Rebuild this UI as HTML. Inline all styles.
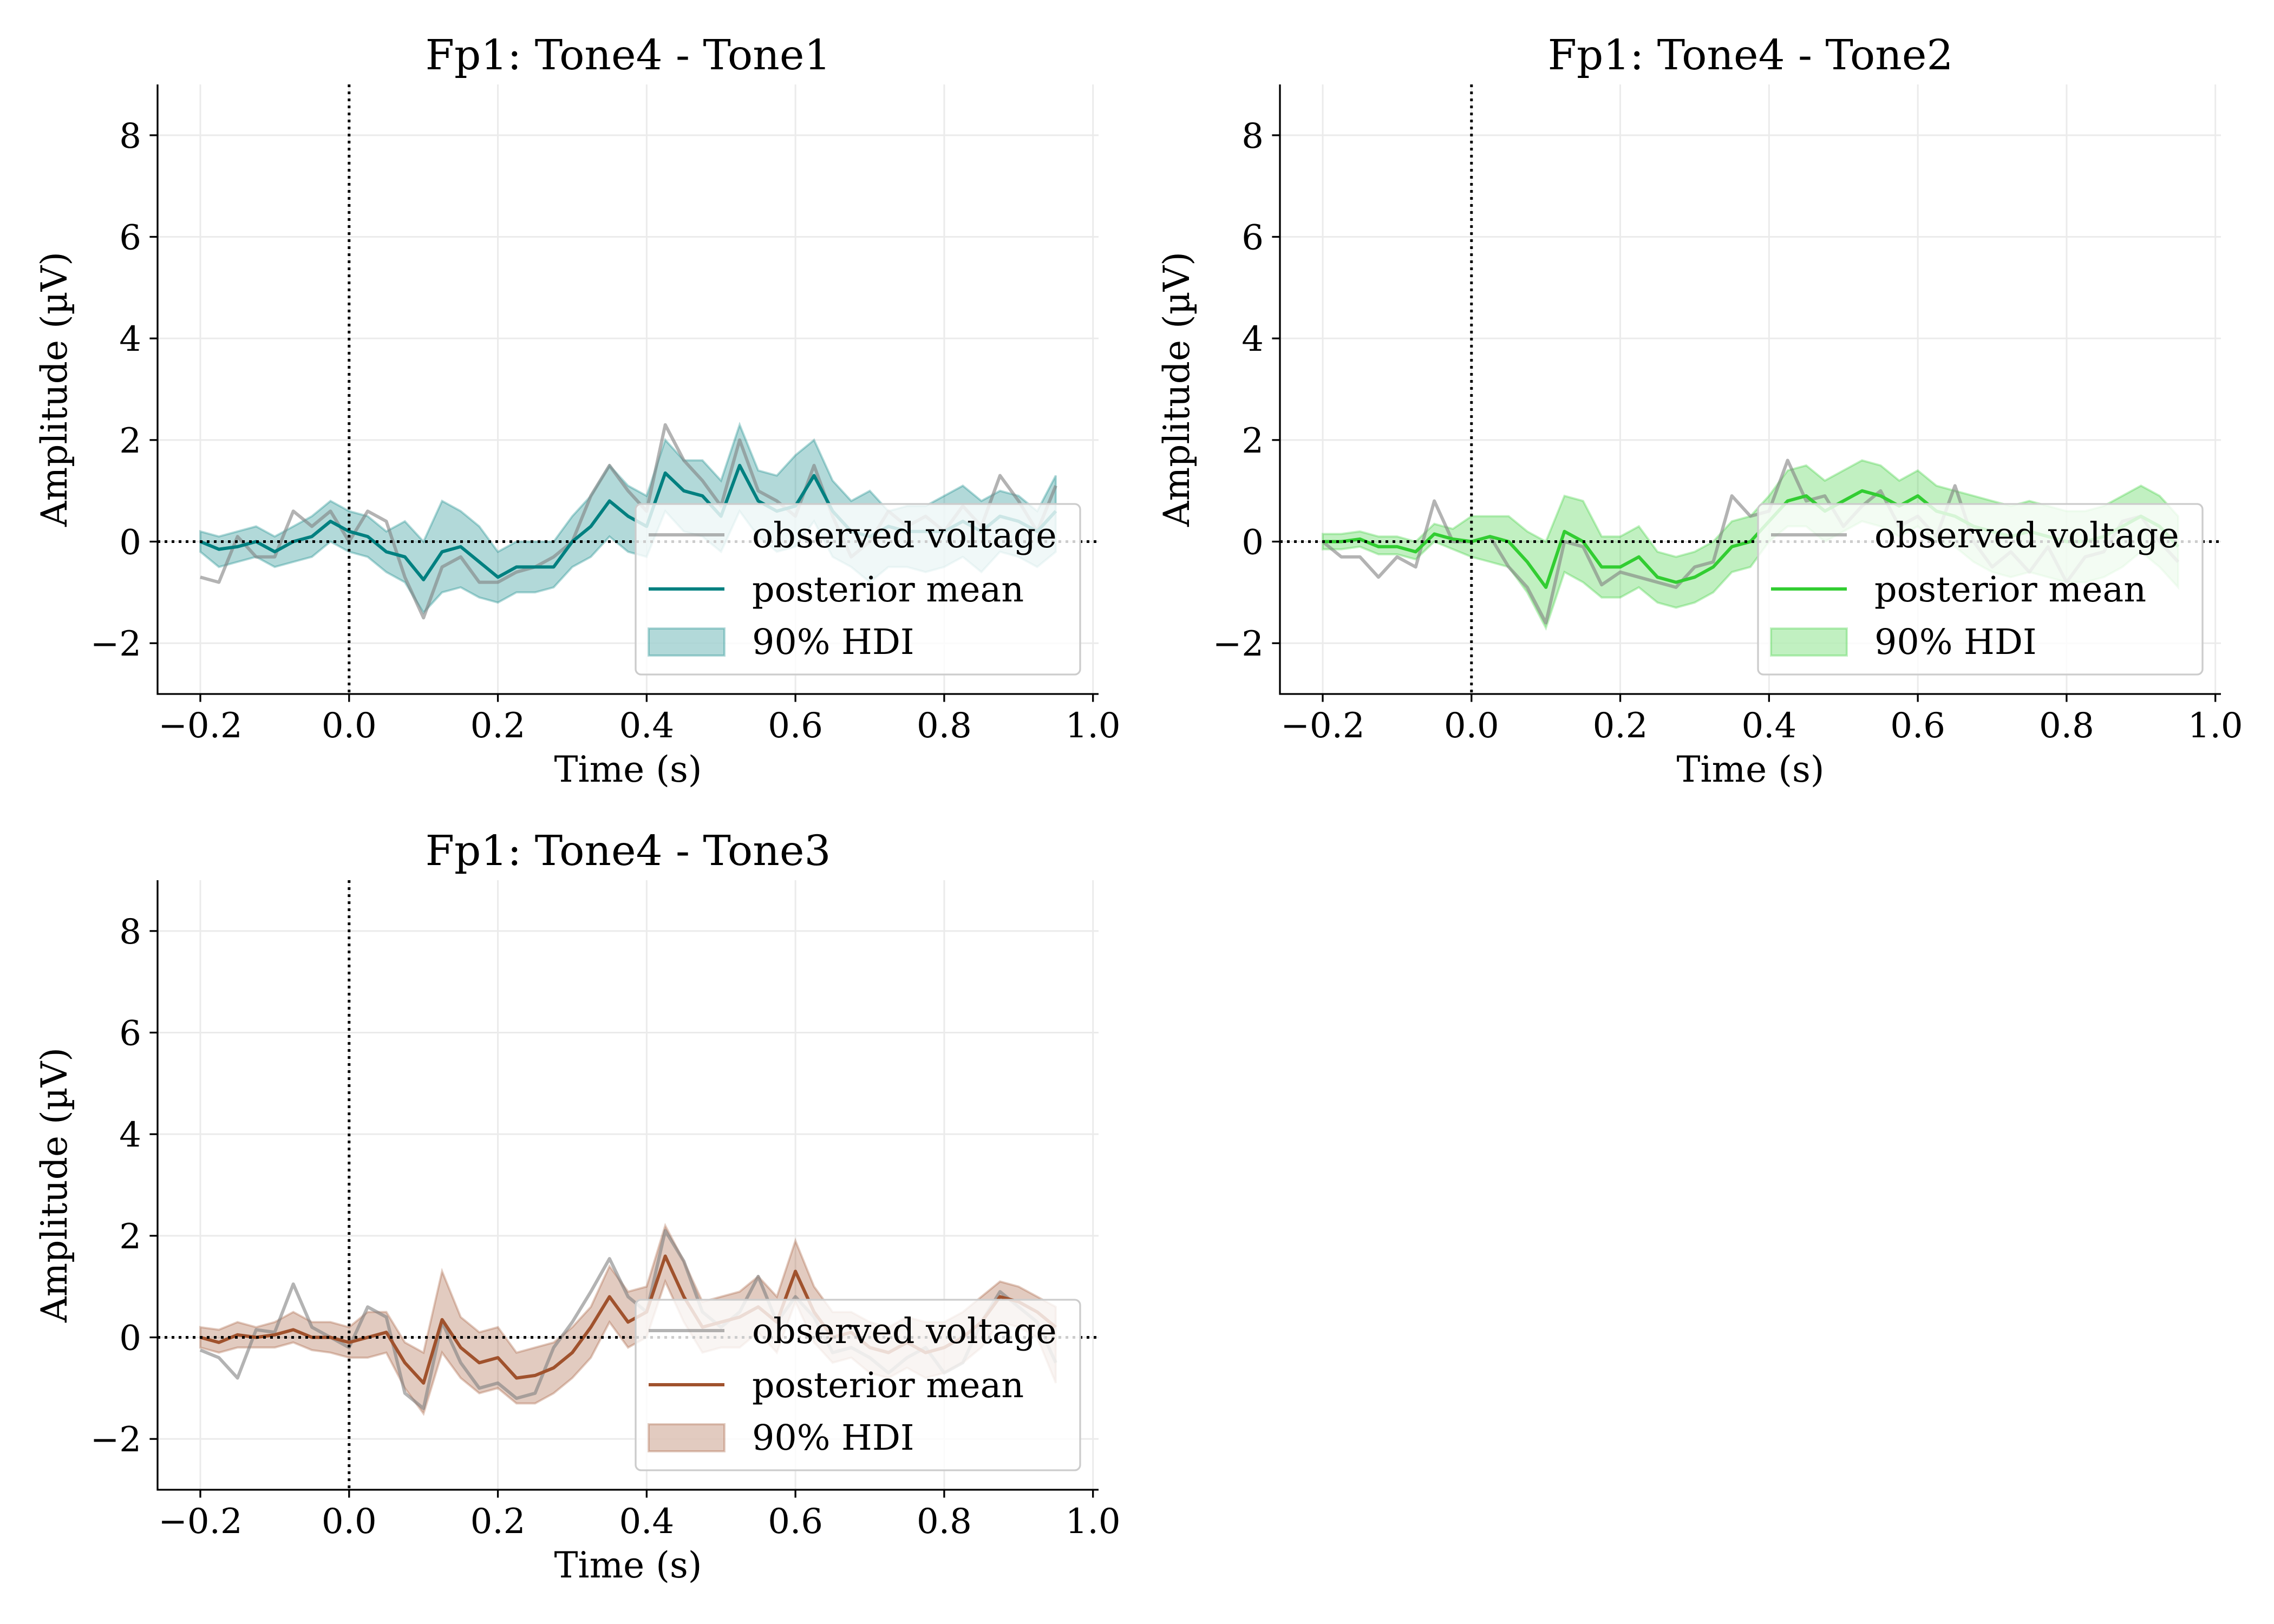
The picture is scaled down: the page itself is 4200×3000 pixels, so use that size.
<!DOCTYPE html>
<html><head><meta charset="utf-8"><style>
html,body{margin:0;padding:0;background:#fff;}
svg{display:block;font-family:"DejaVu Serif","Liberation Serif",serif;}
</style></head><body>
<svg id="fig" xmlns="http://www.w3.org/2000/svg" width="4200" height="3000" viewBox="0 0 4200 3000"></svg>
<script>
const times = [];
for (let k = 0; k < 47; k++) times.push(-0.2 + 0.025 * k);
const xTicks = [-0.2, 0.0, 0.2, 0.4, 0.6, 0.8, 1.0];
const xTickLabels = ["\u22120.2","0.0","0.2","0.4","0.6","0.8","1.0"];
const yTicks = [-2, 0, 2, 4, 6, 8];
const yTickLabels = ["\u22122","0","2","4","6","8"];
const titles = ["Fp1: Tone4 - Tone1","Fp1: Tone4 - Tone2","Fp1: Tone4 - Tone3"];

const obs1 = [-0.7,-0.8,0.1,-0.3,-0.3,0.6,0.3,0.6,0.0,0.6,0.4,-0.7,-1.5,-0.5,-0.3,-0.8,-0.8,-0.6,-0.5,-0.3,0.0,0.9,1.5,1.0,0.6,2.3,1.6,1.2,0.7,2.0,1.0,0.8,0.5,1.5,0.5,-0.3,0.0,0.6,0.3,0.5,0.2,0.7,0.3,1.3,0.8,0.2,1.1];
const mean1 = [0,-0.15,-0.1,0.0,-0.2,0.0,0.1,0.4,0.2,0.1,-0.2,-0.3,-0.75,-0.2,-0.1,-0.4,-0.7,-0.5,-0.5,-0.5,0.0,0.3,0.8,0.5,0.3,1.35,1.0,0.9,0.5,1.5,0.8,0.6,0.7,1.3,0.6,0.2,0.1,0.3,0.2,0.2,0.2,0.4,0.2,0.5,0.4,0.2,0.6];
const lower1 = [-0.2,-0.5,-0.4,-0.3,-0.5,-0.4,-0.3,0.0,-0.2,-0.3,-0.6,-0.8,-1.4,-1.0,-0.9,-1.1,-1.2,-1.0,-1.0,-0.9,-0.5,-0.3,0.1,-0.2,-0.3,0.6,0.2,0.1,-0.2,0.6,0.1,-0.2,-0.1,0.4,-0.3,-0.5,-0.8,-0.5,-0.5,-0.6,-0.5,-0.3,-0.6,-0.2,-0.3,-0.5,-0.2];
const upper1 = [0.2,0.1,0.2,0.3,0.1,0.3,0.5,0.8,0.6,0.5,0.2,0.4,0.0,0.8,0.6,0.3,-0.2,0.0,0.0,0.0,0.5,0.9,1.5,1.1,0.9,2.0,1.6,1.6,1.2,2.3,1.4,1.3,1.7,2.0,1.2,0.8,1.0,0.6,0.7,0.7,0.9,1.1,0.8,1.0,0.9,0.6,1.3];

const obs2 = [0,-0.3,-0.3,-0.7,-0.3,-0.5,0.8,0.0,0.0,0.1,-0.5,-0.9,-1.6,0.0,-0.1,-0.85,-0.6,-0.7,-0.8,-0.9,-0.5,-0.4,0.9,0.5,0.6,1.6,0.8,0.9,0.3,0.7,1.0,0.3,0.5,0.1,1.1,0.0,-0.5,-0.2,-0.6,-0.1,-0.8,-0.3,-0.2,0.4,0.5,0.0,-0.4];
const mean2 = [0,0.0,0.05,-0.1,-0.1,-0.2,0.15,0.05,0.0,0.1,0.0,-0.4,-0.9,0.2,0.0,-0.5,-0.5,-0.3,-0.7,-0.8,-0.7,-0.5,-0.1,0.0,0.4,0.8,0.9,0.6,0.8,1.0,0.9,0.7,0.9,0.6,0.5,0.3,0.2,0.1,0.2,0.1,0.0,0.0,0.1,0.3,0.5,0.3,-0.1];
const lower2 = [-0.15,-0.15,-0.1,-0.25,-0.25,-0.35,0.0,-0.15,-0.3,-0.4,-0.5,-1.0,-1.7,-0.6,-0.8,-1.1,-1.1,-0.9,-1.2,-1.3,-1.2,-1.0,-0.6,-0.5,0.0,0.3,0.3,0.0,0.2,0.4,0.3,0.1,0.3,0.0,-0.1,-0.4,-0.6,-0.7,-0.6,-0.7,-0.8,-0.8,-0.7,-0.5,-0.2,-0.5,-0.9];
const upper2 = [0.15,0.15,0.2,0.1,0.1,0.0,0.35,0.25,0.5,0.5,0.5,0.2,0.0,0.9,0.8,0.1,0.1,0.3,-0.2,-0.3,-0.2,0.0,0.4,0.5,0.9,1.4,1.5,1.2,1.4,1.6,1.5,1.2,1.4,1.1,1.0,0.9,0.8,0.7,0.8,0.7,0.6,0.6,0.7,0.9,1.1,0.9,0.5];

const obs3 = [-0.25,-0.4,-0.8,0.15,0.1,1.05,0.2,0.0,-0.2,0.6,0.4,-1.1,-1.4,0.3,-0.5,-1.0,-0.9,-1.2,-1.1,-0.2,0.3,0.9,1.55,0.8,0.5,2.1,1.5,0.5,0.2,0.5,1.2,0.3,0.8,0.4,-0.3,-0.2,-0.4,-0.7,-0.4,-0.2,-0.7,-0.5,0.3,0.9,0.6,0.3,-0.5];
const mean3 = [0.0,-0.1,0.05,0.0,0.05,0.15,0.0,0.0,-0.1,0.0,0.1,-0.5,-0.9,0.35,-0.2,-0.5,-0.4,-0.8,-0.75,-0.6,-0.3,0.2,0.8,0.3,0.5,1.6,0.8,0.2,0.3,0.4,0.6,0.3,1.3,0.5,0.0,0.1,-0.2,-0.3,-0.1,-0.3,-0.2,0.0,0.3,0.8,0.7,0.5,0.2];
const lower3 = [-0.2,-0.3,-0.2,-0.2,-0.2,-0.1,-0.25,-0.3,-0.4,-0.4,-0.3,-1.0,-1.5,-0.3,-0.8,-1.1,-1.0,-1.3,-1.3,-1.1,-0.8,-0.4,0.3,-0.2,0.0,1.1,0.3,-0.3,-0.2,-0.2,0.1,-0.3,0.7,-0.1,-0.5,-0.4,-0.7,-0.8,-0.6,-0.8,-0.7,-0.5,-0.2,0.3,0.2,0.0,-0.9];
const upper3 = [0.2,0.15,0.3,0.2,0.3,0.5,0.3,0.3,0.2,0.5,0.5,-0.1,-0.3,1.3,0.4,0.1,0.2,-0.3,-0.2,-0.1,0.2,0.6,1.4,0.9,1.0,2.2,1.5,0.7,0.8,0.9,1.2,0.8,1.9,1.0,0.5,0.5,0.3,0.2,0.4,0.3,0.3,0.5,0.8,1.1,1.0,0.8,0.6];

const NS = "http://www.w3.org/2000/svg";
const svg = document.getElementById('fig');
function mk(tag, attrs, parent) {
  const e = document.createElementNS(NS, tag);
  for (const k in attrs) e.setAttribute(k, attrs[k]);
  (parent || svg).appendChild(e);
  return e;
}
const panels = [
  {L:291, T:156, obs:obs1, mean:mean1, lo:lower1, hi:upper1, color:"#008080", key:"tone1"},
  {L:2364, T:156, obs:obs2, mean:mean2, lo:lower2, hi:upper2, color:"#32cd32", key:"tone2"},
  {L:291, T:1626, obs:obs3, mean:mean3, lo:lower3, hi:upper3, color:"#a0522d", key:"tone3"}
];
const W = 1738, H = 1126, XMIN = -0.2575, XMAX = 1.0075, YMIN = -3, YMAX = 9;

panels.forEach((p, pi) => {
  const g = mk('g', {});
  
  
  const X = v => p.L + (v - XMIN) / (XMAX - XMIN) * W;
  const Y = v => p.T + H - (v - YMIN) / (YMAX - YMIN) * H;
  const B = p.T + H;
  xTicks.forEach(t => { const l = mk('line', {x1:X(t), x2:X(t), y1:p.T, y2:B, stroke:"#ebebeb", "stroke-width":3}, g);
      });
  yTicks.forEach(t => { const l = mk('line', {x1:p.L, x2:p.L+W, y1:Y(t), y2:Y(t), stroke:"#ebebeb", "stroke-width":3}, g);
      });
  let d = '';
  times.forEach((t, i) => { d += (i ? 'L' : 'M') + X(t).toFixed(1) + ',' + Y(p.hi[i]).toFixed(1); });
  for (let i = times.length - 1; i >= 0; i--) d += 'L' + X(times[i]).toFixed(1) + ',' + Y(p.lo[i]).toFixed(1);
  d += 'Z';
  const band = mk('path', {d:d, fill:p.color, "fill-opacity":0.3, stroke:p.color, "stroke-opacity":0.3, "stroke-width":4}, g);
  
  
  const pts = a => times.map((t, i) => X(t).toFixed(1) + ',' + Y(a[i]).toFixed(1)).join(' ');
  const ol = mk('polyline', {points:pts(p.obs), fill:"none", stroke:"#808080", "stroke-opacity":0.6, "stroke-width":6, "stroke-linejoin":"round"}, g);
  
  
  const ml = mk('polyline', {points:pts(p.mean), fill:"none", stroke:p.color, "stroke-width":6, "stroke-linejoin":"round"}, g);
  
  
  const hz = mk('line', {x1:p.L, x2:p.L+W, y1:Y(0), y2:Y(0), stroke:"#000", "stroke-width":5, "stroke-dasharray":"5 8"}, g);
   
  const vz = mk('line', {x1:X(0), x2:X(0), y1:p.T, y2:B, stroke:"#000", "stroke-width":5, "stroke-dasharray":"5 8"}, g);
   
  const sl = mk('line', {x1:p.L, x2:p.L, y1:p.T, y2:B+1.5, stroke:"#000", "stroke-width":3.3}, g);
   
  const sb = mk('line', {x1:p.L-1.5, x2:p.L+W, y1:B, y2:B, stroke:"#000", "stroke-width":3.3}, g);
   
  xTicks.forEach((t, i) => {
    const tk = mk('line', {x1:X(t), x2:X(t), y1:B, y2:B+14.6, stroke:"#000", "stroke-width":3.3}, g);
     
    const tx = mk('text', {x:X(t), y:B+80, "font-size":64, "text-anchor":"middle", fill:"#000"}, g);
    tx.textContent = xTickLabels[i];
     
  });
  yTicks.forEach((t, i) => {
    const tk = mk('line', {x1:p.L-14.6, x2:p.L, y1:Y(t), y2:Y(t), stroke:"#000", "stroke-width":3.3}, g);
     
    const tx = mk('text', {x:p.L-30, y:Y(t)+23, "font-size":64, "text-anchor":"end", fill:"#000"}, g);
    tx.textContent = yTickLabels[i];
     
  });
  const xl = mk('text', {x:p.L+W/2, y:B+162, "font-size":66, "text-anchor":"middle", fill:"#000"}, g);
  xl.textContent = "Time (s)";
   
  const yl = mk('text', {x:0, y:0, "font-size":66, "text-anchor":"middle", fill:"#000", transform:`translate(${p.L-168},${Y(3)}) rotate(-90)`}, g);
  yl.textContent = "Amplitude (\u00b5V)";
   
  const tt = mk('text', {x:p.L+W/2, y:p.T-28, "font-size":77, "text-anchor":"middle", fill:"#000"}, g);
  tt.textContent = titles[pi];
   
  const lg = mk('g', {}, g);
  
  
  const lx = p.L + W - 34 - 821, ly = B - 36 - 315;
  mk('rect', {x:lx, y:ly, width:821, height:315, rx:10, fill:"#fff", "fill-opacity":0.8, stroke:"#cccccc", "stroke-width":3.3}, lg);
  const rows = [ly+57, ly+157, ly+254];
  const e1 = mk('line', {x1:lx+24, x2:lx+164, y1:rows[0], y2:rows[0], stroke:"#808080", "stroke-opacity":0.6, "stroke-width":6}, lg);
   
  const e2 = mk('line', {x1:lx+24, x2:lx+164, y1:rows[1], y2:rows[1], stroke:p.color, "stroke-width":6}, lg);
   
  const e3 = mk('rect', {x:lx+24, y:rows[2]-24, width:140, height:50, fill:p.color, "fill-opacity":0.3, stroke:p.color, "stroke-opacity":0.3, "stroke-width":4}, lg);
   
  ["observed voltage","posterior mean","90% HDI"].forEach((s, i) => {
    const t = mk('text', {x:lx+215, y:rows[i]+23, "font-size":65, fill:"#000"}, lg);
    t.textContent = s;
     
  });
});
</script>
</body></html>
